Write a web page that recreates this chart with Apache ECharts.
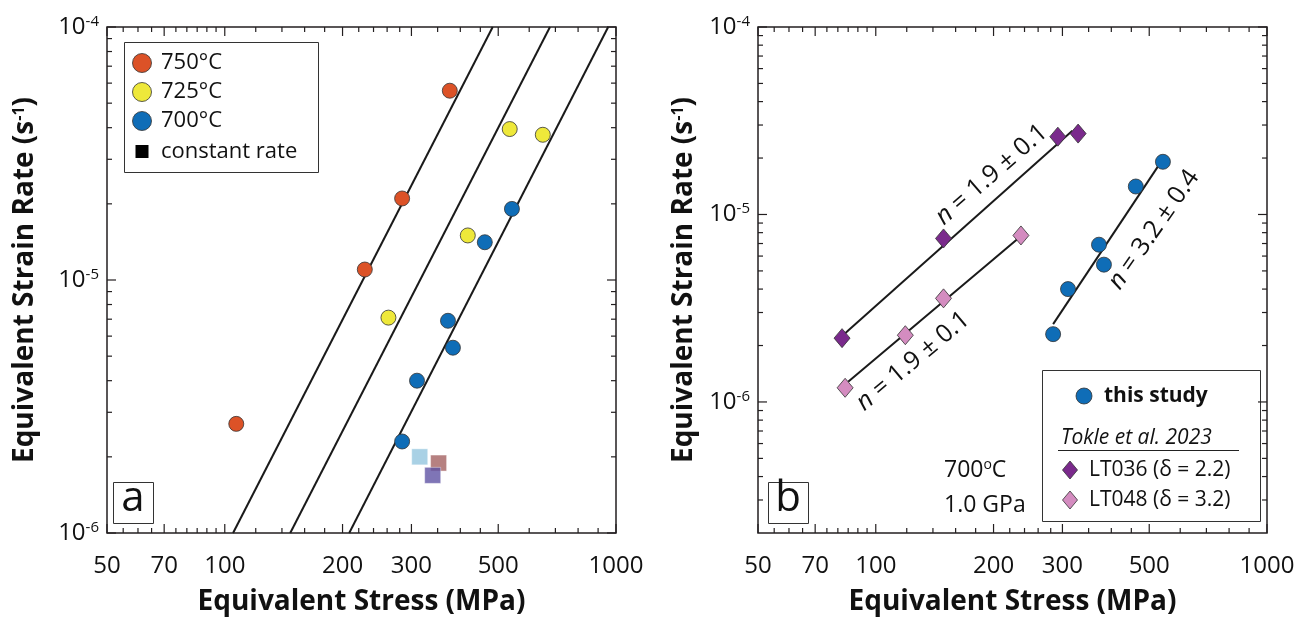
<!DOCTYPE html>
<html>
<head>
<meta charset="utf-8">
<script src="https://cdn.jsdelivr.net/npm/echarts@6/dist/echarts.min.js"></script>
<style>html,body{margin:0;padding:0;background:#fff}#c{width:1303px;height:622px}</style>
</head>
<body>
<div id="c"></div>
<script>
// stress in MPa, strain rate in 1/s
const t750Stress = [107, 228, 284, 376];
const t750Rate = [2.7e-6, 1.1e-5, 2.1e-5, 5.6e-5];
const t725Stress = [262, 418, 535, 650];
const t725Rate = [7.1e-6, 1.5e-5, 3.95e-5, 3.75e-5];
const t700Stress = [284, 310, 372, 383, 462, 542];
const t700Rate = [2.3e-6, 4.0e-6, 6.9e-6, 5.4e-6, 1.41e-5, 1.91e-5];
const constStress = [315, 352, 340];
const constRate = [2.0e-6, 1.89e-6, 1.69e-6];

// panel a reference lines (end points, n ~ 3)
const refStress = [[105, 484], [147, 678], [208, 955]];
const refRate = [1e-6, 1e-4];

// panel b, Tokle et al. 2023
const lt036Stress = [82, 149, 292, 329];
const lt036Rate = [2.19e-6, 7.45e-6, 2.6e-5, 2.7e-5];
const lt048Stress = [83.5, 119, 149, 235];
const lt048Rate = [1.19e-6, 2.27e-6, 3.57e-6, 7.73e-6];

// panel b fits (end points)
const fit036Stress = [82, 318], fit036Rate = [2.25e-6, 2.8e-5];
const fit048Stress = [85, 234], fit048Rate = [1.28e-6, 7.6e-6];
const fitStudyStress = [284, 526], fitStudyRate = [2.6e-6, 1.8e-5];

// fit labels
const nLabelStress = [197.7, 124.6, 514];
const nLabelRate = [1.63e-5, 1.65e-6, 8.3e-6];
const nLabelText = ['1.9 ± 0.1', '1.9 ± 0.1', '3.2 ± 0.4'];
const nLabelAngle = [41, 40, 55];

const xMajor = [50, 70, 100, 200, 300, 500, 1000];
const xMinor = [55, 60, 65, 75, 80, 85, 90, 95, 120, 140, 160, 180, 220, 240, 260, 280, 350, 400, 450, 600, 700, 800, 900];
const yMajor = [-6, -5, -4];

const C750 = '#dc5227', C725 = '#eee83a', C700 = '#0f6db7';
const constColors = ['#93c6df', '#a46262', '#5f52a4'];
const C036 = '#7a2a8c', C048 = '#d48cc0';
const INK = '#231f20';
const FONT = "'Open Sans', 'Noto Sans', sans-serif";

const L = v => Math.log10(v);
const pts = (xs, ys) => xs.map((x, i) => [L(x), L(ys[i])]);

function yMinor(lo, hi) {
  const out = [];
  for (let e = lo; e < hi; e++) for (let m = 2; m <= 9; m++) out.push(L(m) + e);
  return out;
}

function xAxis(g) {
  return { type: 'value', gridIndex: g, min: L(50), max: L(1000), splitLine: { show: false },
    axisLine: { show: false }, axisTick: { show: false },
    axisLabel: { show: true, customValues: xMajor.map(L), formatter: v => Math.round(Math.pow(10, v)),
      fontSize: 24, color: '#111', margin: 21, fontFamily: FONT },
    name: 'Equivalent Stress (MPa)', nameLocation: 'middle', nameGap: 55,
    nameTextStyle: { fontSize: 28, fontWeight: 'bold', color: '#111', fontFamily: FONT } };
}

function yAxis(g, min, gap) {
  return { type: 'value', gridIndex: g, min: min, max: -4, splitLine: { show: false },
    axisLine: { show: false }, axisTick: { show: false },
    axisLabel: { show: true, customValues: yMajor, margin: 8, fontFamily: FONT,
      formatter: v => '{b|10}{s|' + Math.round(v) + '}',
      rich: { b: { fontSize: 24, color: '#111', fontFamily: FONT, lineHeight: 26 },
              s: { fontSize: 15, color: '#111', fontFamily: FONT, verticalAlign: 'top', lineHeight: 12 } } },
    name: 'Equivalent Strain Rate (s{sup|-1})', nameLocation: 'middle', nameGap: gap,
    nameTextStyle: { fontSize: 28, fontWeight: 'bold', color: '#111', fontFamily: FONT,
      rich: { sup: { fontSize: 16, fontWeight: 'bold', color: '#111', fontFamily: FONT, verticalAlign: 'top', lineHeight: 14 } } } };
}

const circle = (name, color, xs, ys, g) => ({
  name, type: 'scatter', xAxisIndex: g, yAxisIndex: g, symbol: 'circle', symbolSize: 15,
  itemStyle: { color, borderColor: '#333', borderWidth: 0.8, opacity: 1 }, data: pts(xs, ys), z: 5
});
const diamond = (name, color, xs, ys) => ({
  name, type: 'scatter', xAxisIndex: 1, yAxisIndex: 1, symbol: 'diamond', symbolSize: [16, 19],
  itemStyle: { color, borderColor: '#333', borderWidth: 0.8, opacity: 1 }, data: pts(xs, ys), z: 5
});
const line = (xs, ys, g) => ({
  type: 'line', xAxisIndex: g, yAxisIndex: g, symbol: 'none', silent: true,
  lineStyle: { color: '#1a1a1a', width: 2 }, data: pts(xs, ys), z: 3
});

const series = [];
refStress.forEach(s => series.push(line(s, refRate, 0)));
series.push(circle('750°C', C750, t750Stress, t750Rate, 0));
series.push(circle('725°C', C725, t725Stress, t725Rate, 0));
series.push(circle('700°C', C700, t700Stress, t700Rate, 0));
series.push({
  name: 'constant rate', type: 'scatter', xAxisIndex: 0, yAxisIndex: 0, symbol: 'rect', symbolSize: 16, z: 4,
  data: pts(constStress, constRate).map((p, i) => ({ value: p, itemStyle: { color: constColors[i], borderColor: 'rgba(255,255,255,0.5)', borderWidth: 1 } }))
});
series.push(line(fit036Stress, fit036Rate, 1));
series.push(line(fit048Stress, fit048Rate, 1));
series.push(line(fitStudyStress, fitStudyRate, 1));
series.push(diamond('LT036 (δ = 2.2)', C036, lt036Stress, lt036Rate));
series.push(diamond('LT048 (δ = 3.2)', C048, lt048Stress, lt048Rate));
series.push(circle('this study', C700, t700Stress, t700Rate, 1));

// legends and panel tags
const txt = (x, y, text, size, extra) => ({ type: 'text', x, y, z: 20,
  style: Object.assign({ text, fontSize: size, fill: '#111', fontFamily: FONT, verticalAlign: 'middle' }, extra || {}) });
const graphic = [
  { type: 'rect', shape: { x: 124.5, y: 42.5, width: 194, height: 130 }, style: { fill: '#fff', stroke: '#333', lineWidth: 1 }, z: 10 },
  { type: 'circle', shape: { cx: 142, cy: 63, r: 9.5 }, style: { fill: C750, stroke: '#333', lineWidth: 0.8 }, z: 20 },
  { type: 'circle', shape: { cx: 142, cy: 92, r: 9.5 }, style: { fill: C725, stroke: '#333', lineWidth: 0.8 }, z: 20 },
  { type: 'circle', shape: { cx: 142, cy: 121, r: 9.5 }, style: { fill: C700, stroke: '#333', lineWidth: 0.8 }, z: 20 },
  { type: 'rect', shape: { x: 135.5, y: 145, width: 13, height: 13 }, style: { fill: '#000' }, z: 20 },
  txt(161, 63, '750°C', 22), txt(161, 92, '725°C', 22), txt(161, 121, '700°C', 22), txt(161, 152, 'constant rate', 22),

  { type: 'rect', shape: { x: 1042.5, y: 370.5, width: 218, height: 151 }, style: { fill: '#fff', stroke: '#333', lineWidth: 1 }, z: 10 },
  { type: 'circle', shape: { cx: 1084, cy: 396, r: 8 }, style: { fill: C700, stroke: '#333', lineWidth: 0.8 }, z: 20 },
  txt(1104, 396, 'this study', 21, { fontWeight: 'bold' }),
  txt(1061, 438, 'Tokle et al. 2023', 21, { fontStyle: 'italic' }),
  { type: 'line', shape: { x1: 1058, y1: 450.5, x2: 1239, y2: 450.5 }, style: { stroke: '#222', lineWidth: 1.2 }, z: 20 },
  { type: 'polygon', shape: { points: [[1070, 461], [1077.5, 470], [1070, 479], [1062.5, 470]] }, style: { fill: C036, stroke: '#333', lineWidth: 0.8 }, z: 20 },
  { type: 'polygon', shape: { points: [[1070, 491], [1077.5, 500], [1070, 509], [1062.5, 500]] }, style: { fill: C048, stroke: '#333', lineWidth: 0.8 }, z: 20 },
  txt(1089, 470, 'LT036 (δ = 2.2)', 21), txt(1089, 500, 'LT048 (δ = 3.2)', 21),

  txt(944, 470, '700{o|o}C', 23, { rich: { o: { fontSize: 14, verticalAlign: 'top', lineHeight: 14, fill: '#111', fontFamily: FONT } } }),
  txt(944, 505, '1.0 GPa', 23),

  { type: 'rect', shape: { x: 113.5, y: 482.5, width: 40, height: 41 }, style: { fill: '#fff', stroke: '#333', lineWidth: 1 }, z: 10 },
  txt(133, 499, 'a', 42, { align: 'center' }),
  { type: 'rect', shape: { x: 768.5, y: 482.5, width: 40, height: 41 }, style: { fill: '#fff', stroke: '#333', lineWidth: 1 }, z: 10 },
  txt(788, 499, 'b', 42, { align: 'center' })
];

const chart = echarts.init(document.getElementById('c'));
chart.setOption({
  animation: false,
  backgroundColor: '#fff',
  textStyle: { fontFamily: FONT },
  grid: [
    { left: 107, top: 27, width: 509, height: 506, show: true, borderColor: INK, borderWidth: 1.5, backgroundColor: 'transparent' },
    { left: 758, top: 27, width: 509, height: 506, show: true, borderColor: INK, borderWidth: 1.5, backgroundColor: 'transparent' }
  ],
  xAxis: [xAxis(0), xAxis(1)],
  yAxis: [yAxis(0, -6, 68), yAxis(1, L(2e-7), 60)],
  series,
  graphic
});

// inside ticks on all four sides and the fit labels, placed through the axes
const px = (g, x, y) => chart.convertToPixel({ gridIndex: g }, [x, y]);
const tickStyle = { stroke: INK, lineWidth: 1.2 };
function addTicks(g, yLo, lo) {
  const xLo = L(50), xHi = L(1000), yHi = -4;
  const xt = xMajor.map(v => [L(v), 9]).concat(xMinor.map(v => [L(v), 5]));
  const yt = yMajor.map(v => [v, 9]).concat(yMinor(lo, -4).filter(v => v > yLo + 1e-6).map(v => [v, 5]));
  xt.forEach(([v, len]) => {
    const a = px(g, v, yLo), b = px(g, v, yHi);
    graphic.push({ type: 'line', z: 15, shape: { x1: a[0], y1: a[1], x2: a[0], y2: a[1] - len }, style: tickStyle });
    graphic.push({ type: 'line', z: 15, shape: { x1: b[0], y1: b[1], x2: b[0], y2: b[1] + len }, style: tickStyle });
  });
  yt.forEach(([v, len]) => {
    const a = px(g, xLo, v), b = px(g, xHi, v);
    graphic.push({ type: 'line', z: 15, shape: { x1: a[0], y1: a[1], x2: a[0] + len, y2: a[1] }, style: tickStyle });
    graphic.push({ type: 'line', z: 15, shape: { x1: b[0], y1: b[1], x2: b[0] - len, y2: b[1] }, style: tickStyle });
  });
}
addTicks(0, -6, -6);
addTicks(1, L(2e-7), -7);

pts(nLabelStress, nLabelRate).forEach((p, i) => {
  const c = px(1, p[0], p[1]);
  graphic.push({ type: 'text', x: c[0], y: c[1], rotation: nLabelAngle[i] * Math.PI / 180, z: 12,
    style: { text: '{i|n} = ' + nLabelText[i], fontSize: 25, fill: '#111', fontFamily: FONT, align: 'center', verticalAlign: 'middle',
      rich: { i: { fontStyle: 'italic', fontSize: 25, fill: '#111', fontFamily: FONT } } } });
});

chart.setOption({ graphic });
</script>
</body>
</html>
